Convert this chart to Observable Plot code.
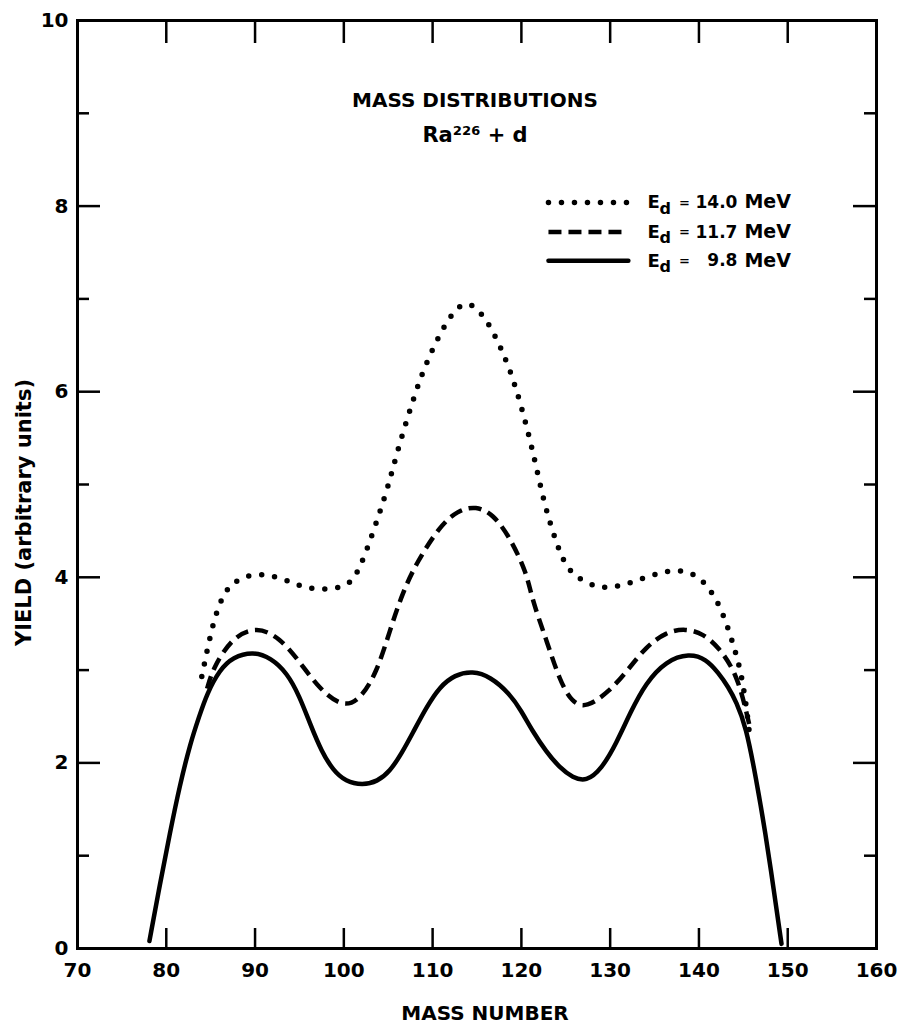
<!DOCTYPE html>
<html><head><meta charset="utf-8">
<script src="https://cdn.jsdelivr.net/npm/d3@7"></script>
<script src="https://cdn.jsdelivr.net/npm/@observablehq/plot@0.6"></script>
<style>body{margin:0;background:#fff}</style>
</head><body><div id="chart"></div>
<script>
// ---- data ----
const mass_9_8 = [78.1,79.3,80.4,81.5,82.7,83.7,84.6,86,87.5,89.8,91.8,93.6,95,96.2,97.5,98.8,100.2,102.1,103.8,105.2,106.5,107.75,109.3,110.8,112.5,114.5,116.5,118.65,120,121.2,122.8,124.3,125.8,127.3,129,130.7,132.3,134,136.3,138.9,140.8,142.2,143.3,144.2,145.3,146.4,147.5,148.4,149.3];
const yield_9_8 = [0.08,0.7,1.24,1.75,2.21,2.5,2.75,3.0,3.14,3.2,3.13,2.97,2.72,2.42,2.12,1.92,1.8,1.76,1.8,1.91,2.1,2.32,2.6,2.82,2.95,2.99,2.93,2.75,2.56,2.35,2.12,1.95,1.84,1.8,1.93,2.21,2.55,2.86,3.1,3.18,3.12,2.97,2.82,2.66,2.39,1.85,1.24,0.65,0.05];

const mass_11_7 = [84.6,85.3,87.5,90.2,92.8,95.1,97.3,99.9,101.8,103.7,105.2,106.6,108.2,110.8,112.8,114.9,116.8,118.65,120.6,121.2,122.8,124.3,125.7,127.3,129.9,132,134,136.3,138.5,140.5,142.2,144.2,145.3,145.7];
const yield_11_7 = [2.8,3.03,3.36,3.47,3.35,3.08,2.79,2.6,2.68,2.97,3.43,3.83,4.16,4.55,4.72,4.77,4.68,4.44,4.05,3.76,3.33,2.89,2.65,2.59,2.77,3.0,3.25,3.41,3.45,3.39,3.25,2.97,2.57,2.4];

const mass_14_0 = [84.0,85.3,86.4,87.4,89.7,92.5,95.1,97.6,100.3,101.2,102.1,104,105.2,106,107.75,108.8,109.9,111.1,112.5,113.9,115.1,116.6,118.65,120.2,121.5,122.6,124.0,125.0,126.2,128.4,130.1,132,134,136,138,139.8,141.2,142.3,143.3,144.1,144.8,145.4,145.7];
const yield_14_0 = [2.93,3.54,3.81,3.94,4.05,4.01,3.9,3.86,3.9,4.0,4.16,4.68,5.05,5.35,5.9,6.19,6.44,6.67,6.89,6.97,6.89,6.7,6.27,5.78,5.27,4.78,4.35,4.12,4.0,3.89,3.89,3.93,4.0,4.06,4.08,4.02,3.88,3.7,3.45,3.2,2.95,2.57,2.3];

const energies = ["14.0", "11.7", "9.8"];
const xTicks = [70, 80, 90, 100, 110, 120, 130, 140, 150, 160];
const yTicksMajor = [0, 2, 4, 6, 8, 10];
const yTicksMinor = [1, 3, 5, 7, 9];
const innerXTicks = [80, 90, 100, 110, 120, 130, 140, 150];
const innerYMajor = [2, 4, 6, 8];

const titleText = "MASS DISTRIBUTIONS";
const subtitleText = "Ra\u00B2\u00B2\u2076 + d";
const xLabel = "MASS NUMBER";
const yLabel = "YIELD (arbitrary units)";

// ---- styling ----
const styles = {
  "14.0": {strokeDasharray: "0 13", strokeWidth: 5.5, strokeLinecap: "round"},
  "11.7": {strokeDasharray: "13 7", strokeWidth: 4.5, strokeLinecap: "butt"},
  "9.8":  {strokeDasharray: null, strokeWidth: 4.5, strokeLinecap: "round"}
};
const seriesData = {
  "14.0": d3.zip(mass_14_0, yield_14_0).map(([x, y]) => ({x, y})),
  "11.7": d3.zip(mass_11_7, yield_11_7).map(([x, y]) => ({x, y})),
  "9.8":  d3.zip(mass_9_8, yield_9_8).map(([x, y]) => ({x, y}))
};

const W = 901, H = 1025, mL = 77, mR = 25, mT = 20, mB = 77;
const innerW = W - mL - mR, innerH = H - mT - mB;
const FONT = "DejaVu Sans";

// legend placement (in data units)
const legX1 = 123.05, legX2 = 132.05, legTextX = 134.2;
const legRows = {"14.0": 8.04, "11.7": 7.72, "9.8": 7.41};

const curveMarks = energies.map(e => Plot.line(seriesData[e], {
  x: "x", y: "y", curve: "basis", stroke: "#000", ...styles[e]
}));
const legendLines = energies.map(e => Plot.line([{x: legX1, y: legRows[e]}, {x: legX2, y: legRows[e]}], {
  x: "x", y: "y", stroke: "#000", ...styles[e]
}));
const legendRowsData = energies.map(e => ({e, y: legRows[e]}));
const txt = {fill: "#000", fontWeight: "bold", fontFamily: FONT};

const plot = Plot.plot({
  width: W, height: H,
  marginLeft: mL, marginRight: mR, marginTop: mT, marginBottom: mB,
  style: {fontFamily: FONT, fontWeight: "bold", background: "#fff", color: "#000"},
  x: {domain: [70, 160]},
  y: {domain: [0, 10]},
  marks: [
    Plot.frame({stroke: "#000", strokeWidth: 3}),
    // ticks (inward)
    Plot.tickX(innerXTicks, {x: d => d, insetTop: innerH - 20, stroke: "#000", strokeWidth: 2.5}),
    Plot.tickX(innerXTicks, {x: d => d, insetBottom: innerH - 23, stroke: "#000", strokeWidth: 2.5}),
    Plot.tickY(innerYMajor, {y: d => d, insetRight: innerW - 23, stroke: "#000", strokeWidth: 2.5}),
    Plot.tickY(yTicksMinor, {y: d => d, insetRight: innerW - 12, stroke: "#000", strokeWidth: 2.5}),
    Plot.tickY(innerYMajor, {y: d => d, insetLeft: innerW - 23, stroke: "#000", strokeWidth: 2.5}),
    Plot.tickY(yTicksMinor, {y: d => d, insetLeft: innerW - 12, stroke: "#000", strokeWidth: 2.5}),
    Plot.axisX({ticks: xTicks, tickSize: 0, tickPadding: 14, fontSize: 20, fontWeight: "bold", label: null}),
    Plot.axisY({ticks: yTicksMajor, tickSize: 0, tickPadding: 9, fontSize: 20, fontWeight: "bold", label: null}),
    // curves
    ...curveMarks,
    // legend
    ...legendLines,
    Plot.text(legendRowsData, {x: legTextX, y: "y", text: () => "E", textAnchor: "start", fontSize: 18, lineAnchor: "middle", ...txt}),
    Plot.text(legendRowsData, {x: legTextX, y: "y", text: () => "d", textAnchor: "start", fontSize: 16, dx: 12, dy: 6, lineAnchor: "middle", ...txt}),
    Plot.text(legendRowsData, {x: legTextX, y: "y", text: () => "=", textAnchor: "middle", fontSize: 13, dx: 37, lineAnchor: "middle", ...txt}),
    Plot.text(legendRowsData, {x: legTextX, y: "y", text: "e", textAnchor: "end", fontSize: 17, dx: 90, lineAnchor: "middle", ...txt}),
    Plot.text(legendRowsData, {x: legTextX, y: "y", text: () => "MeV", textAnchor: "start", fontSize: 19, dx: 97, lineAnchor: "middle", ...txt}),
    // titles
    Plot.text([titleText], {frameAnchor: "top", textAnchor: "middle", dx: -2, dy: 80, fontSize: 20, lineAnchor: "middle", ...txt}),
    Plot.text([subtitleText], {frameAnchor: "top", textAnchor: "middle", dx: -2, dy: 115, fontSize: 21, lineAnchor: "middle", ...txt}),
    Plot.text([xLabel], {frameAnchor: "bottom", textAnchor: "middle", dx: 8, dy: 65, fontSize: 20, lineAnchor: "middle", ...txt}),
    Plot.text([yLabel], {frameAnchor: "left", textAnchor: "middle", dx: -53, dy: 28, rotate: -90, fontSize: 21, lineAnchor: "middle", ...txt})
  ]
});
document.getElementById("chart").appendChild(plot);
</script>
</body></html>
